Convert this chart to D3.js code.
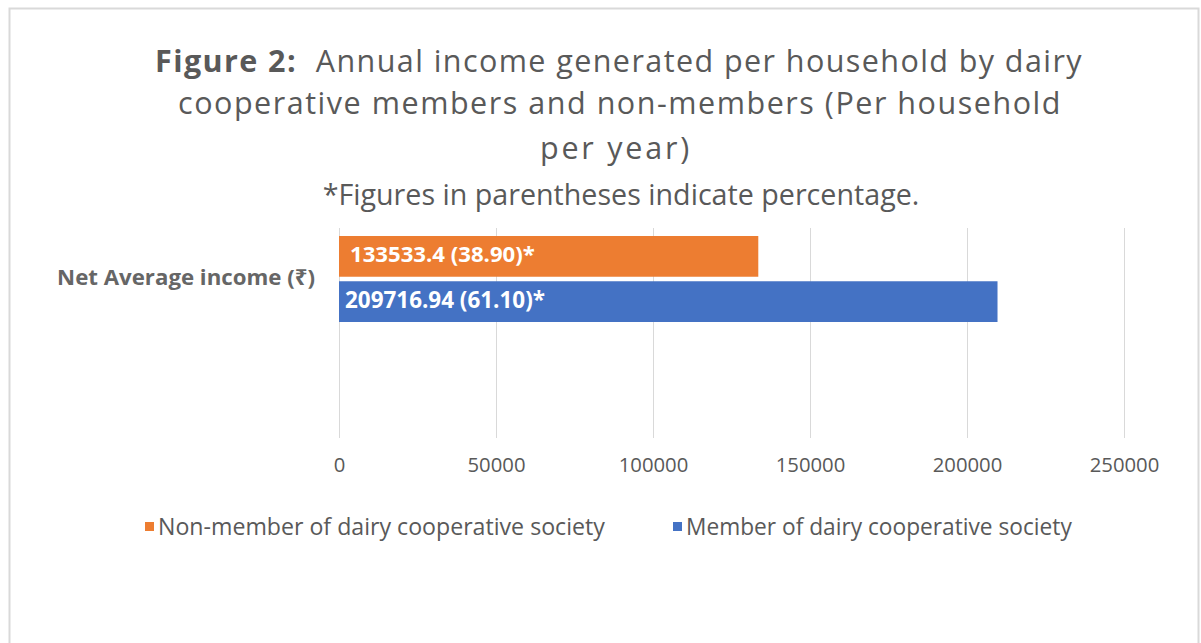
<!DOCTYPE html>
<html>
<head>
<meta charset="utf-8">
<script src="https://cdn.jsdelivr.net/npm/d3@7/dist/d3.min.js"></script>
<style>
  html, body { margin: 0; padding: 0; background: #fff; }
  svg { display: block; }
  text { font-family: "Open Sans", "Noto Sans", sans-serif; }
</style>
</head>
<body>
<svg id="chart" width="1201" height="643"></svg>
<script>
// ---- data ----
const categories = ["Net Average income (\u20B9)"];
const seriesNames = ["Non-member of dairy cooperative society", "Member of dairy cooperative society"];
const seriesValues = [133533.4, 209716.94];
const seriesLabels = ["133533.4 (38.90)*", "209716.94 (61.10)*"];
const tickValues = [0, 50000, 100000, 150000, 200000, 250000];
const titleLines = ["Annual income generated per household by dairy", "cooperative members and non-members (Per household", "per year)"];
const subtitle = "*Figures in parentheses indicate percentage.";

const colors = ["#ED7D31", "#4472C4"];
const textGray = "#595959";

const svg = d3.select("#chart");

// outer border
svg.append("rect").attr("x", 9.5).attr("y", 8.5).attr("width", 1189).attr("height", 640)
  .attr("fill", "#fff").attr("stroke", "#d9d9d9").attr("stroke-width", 2);

// fit helper: scale font size so the text reaches a target width
function fitSize(sel, targetWidth) {
  const w = sel.node().getComputedTextLength();
  const fs = parseFloat(sel.attr("font-size"));
  sel.attr("font-size", (fs * targetWidth / w).toFixed(2));
}
// spacing helper: keep font size, adjust letter-spacing to reach target width
function fitSpacing(sel, targetWidth) {
  sel.attr("letter-spacing", 0);
  const node = sel.node();
  const w = node.getComputedTextLength();
  const n = node.getNumberOfChars();
  sel.attr("letter-spacing", ((targetWidth - w) / n).toFixed(3));
}

// title
const titleFs = 30.5;
const t1 = svg.append("text").attr("x", 619).attr("y", 72).attr("text-anchor", "middle")
  .attr("font-size", titleFs).attr("fill", textGray);
t1.append("tspan").attr("font-weight", "bold").text("Figure 2:");
t1.append("tspan").text("\u00A0 " + titleLines[0]);
fitSpacing(t1, 928);
const t2 = svg.append("text").attr("x", 620).attr("y", 114).attr("text-anchor", "middle")
  .attr("font-size", titleFs).attr("fill", textGray).text(titleLines[1]);
fitSpacing(t2, 884);
const t3 = svg.append("text").attr("x", 616).attr("y", 159).attr("text-anchor", "middle")
  .attr("font-size", titleFs).attr("fill", textGray).text(titleLines[2]);
fitSpacing(t3, 152);
const st = svg.append("text").attr("x", 621).attr("y", 205).attr("text-anchor", "middle")
  .attr("font-size", 24).attr("fill", textGray).text(subtitle);
fitSize(st, 597);

// scales
const x = d3.scaleLinear().domain([0, 250000]).range([339, 1124]);
const yCat = d3.scaleBand().domain(categories).range([228, 330]);
const ySeries = d3.scaleBand().domain(seriesNames).range([236, 322]).paddingInner(0.1);

// gridlines
svg.append("g").selectAll("line").data(tickValues).join("line")
  .attr("x1", d => x(d) + 0.5).attr("x2", d => x(d) + 0.5)
  .attr("y1", 228).attr("y2", 438)
  .attr("stroke", "#d9d9d9").attr("stroke-width", 1);

// x axis labels
const axis = d3.axisBottom(x).tickValues(tickValues).tickSize(0).tickPadding(0).tickFormat(d3.format("d"));
const gx = svg.append("g").attr("transform", "translate(0,458)").call(axis);
gx.select(".domain").remove();
gx.selectAll("text").attr("font-size", 17).attr("fill", textGray)
  .attr("font-family", "'Open Sans', 'Noto Sans', sans-serif")
  .each(function(d) { fitSize(d3.select(this), String(d).length * 11.6); });

// bars
svg.append("g").selectAll("rect").data(seriesNames).join("rect")
  .attr("x", x(0)).attr("y", d => ySeries(d))
  .attr("width", (d, i) => x(seriesValues[i]) - x(0))
  .attr("height", ySeries.bandwidth())
  .attr("fill", (d, i) => colors[i]);

// bar labels
const labelTargets = [185, 200];
svg.append("g").selectAll("text").data(seriesNames).join("text")
  .attr("x", (d, i) => x(0) + (i === 0 ? 11 : 6))
  .attr("y", d => ySeries(d) + ySeries.bandwidth() / 2 + 6)
  .attr("font-size", 17).attr("font-weight", "bold").attr("fill", "#fff")
  .text((d, i) => seriesLabels[i])
  .each(function(d, i) { fitSize(d3.select(this), labelTargets[i]); });

// category label
svg.append("g").selectAll("text").data(categories).join("text")
  .attr("x", 315).attr("y", d => yCat(d) + yCat.bandwidth() / 2 + 6)
  .attr("text-anchor", "end").attr("font-size", 17).attr("font-weight", "bold")
  .attr("fill", "#666").text(d => d)
  .each(function() { fitSize(d3.select(this), 258); });

// legend
const legendX = [145, 673];
const legendTargets = [447, 386];
const lg = svg.append("g").selectAll("g").data(seriesNames).join("g")
  .attr("transform", (d, i) => `translate(${legendX[i]},522)`);
lg.append("rect").attr("width", 9).attr("height", 9).attr("fill", (d, i) => colors[i]);
lg.append("text").attr("x", 13).attr("y", 13).attr("font-size", 20).attr("fill", textGray).text(d => d);
lg.each(function(d, i) { fitSize(d3.select(this).select("text"), legendTargets[i]); });
</script>
</body>
</html>
